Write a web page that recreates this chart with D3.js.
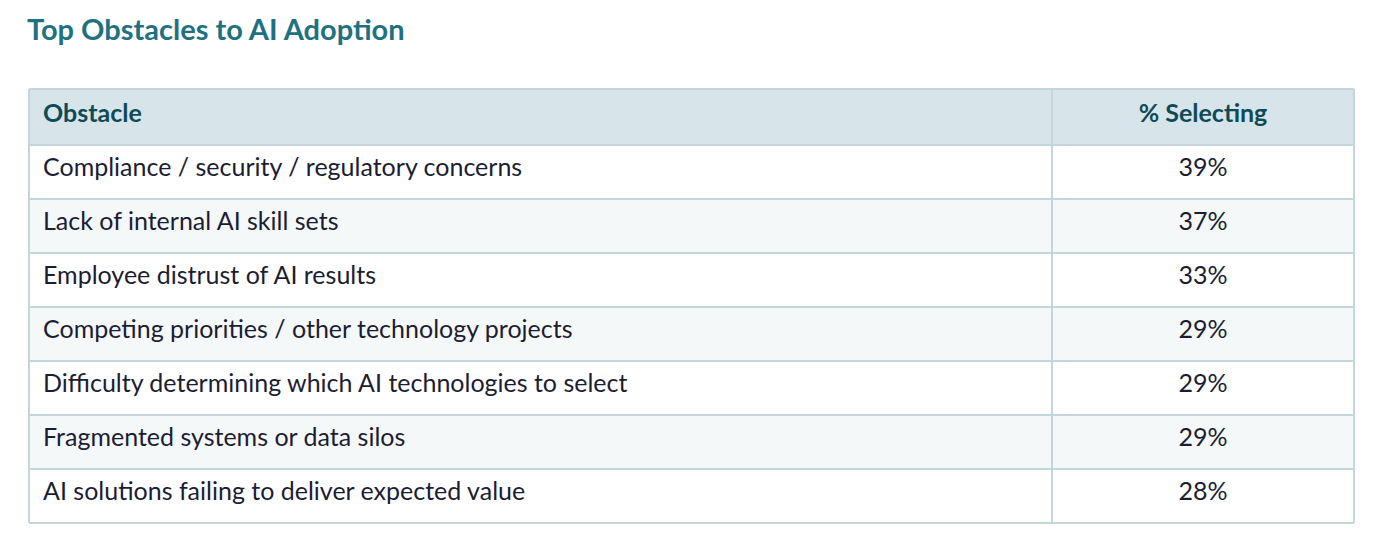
<!DOCTYPE html>
<html>
<head>
<meta charset="utf-8">
<script src="https://cdn.jsdelivr.net/npm/d3@7"></script>
<style>
  html, body { margin: 0; padding: 0; background: #ffffff; }
  svg { display: block; font-family: Lato, "Open Sans", sans-serif; }
</style>
</head>
<body>
<div id="chart"></div>
<script>
const title = "Top Obstacles to AI Adoption";
const columns = ["Obstacle", "% Selecting"];
const obstacles = [
  "Compliance / security / regulatory concerns",
  "Lack of internal AI skill sets",
  "Employee distrust of AI results",
  "Competing priorities / other technology projects",
  "Difficulty determining which AI technologies to select",
  "Fragmented systems or data silos",
  "AI solutions failing to deliver expected value"
];
const pctSelecting = [39, 37, 33, 29, 29, 29, 28];

const width = 1400;
const height = 553;
const table = { left: 29, right: 1354, top: 89, headerH: 56, bottom: 523 };
const splitX = 1052;
const fontSize = "25px";

const svg = d3.select("#chart")
  .append("svg")
  .attr("width", width)
  .attr("height", height);

svg.append("text")
  .text(title)
  .attr("x", 27)
  .attr("y", 40)
  .style("font-size", "29px")
  .style("font-weight", "bold")
  .style("fill", "#1f717f");

const rowScale = d3.scaleBand()
  .domain(d3.range(obstacles.length))
  .range([table.top + table.headerH, table.bottom]);

const rows = obstacles.map((d, i) => ({ label: d, value: pctSelecting[i], index: i }));

// header band
svg.append("rect")
  .attr("x", table.left)
  .attr("y", table.top)
  .attr("width", table.right - table.left)
  .attr("height", table.headerH)
  .attr("fill", "#d7e4e9");

const row = svg.selectAll("g.row")
  .data(rows)
  .join("g")
  .attr("class", "row")
  .attr("transform", (d) => `translate(0,${rowScale(d.index)})`);

row.append("rect")
  .attr("x", table.left)
  .attr("width", table.right - table.left)
  .attr("height", rowScale.bandwidth())
  .attr("fill", (d) => (d.index % 2 === 0 ? "#ffffff" : "#f4f8f9"));

row.append("text")
  .text((d) => d.label)
  .attr("x", 43)
  .attr("y", rowScale.bandwidth() / 2 + 4)
  .style("font-size", fontSize)
  .style("fill", "#1c1d33");

row.append("text")
  .text((d) => `${d.value}%`)
  .attr("x", (splitX + table.right) / 2)
  .attr("y", rowScale.bandwidth() / 2 + 4)
  .style("text-anchor", "middle")
  .style("font-size", fontSize)
  .style("fill", "#1c1d33");

svg.append("text")
  .text(columns[0])
  .attr("x", 43)
  .attr("y", table.top + table.headerH / 2 + 5)
  .style("font-size", fontSize)
  .style("font-weight", "bold")
  .style("fill", "#0f4b56");

svg.append("text")
  .text(columns[1])
  .attr("x", (splitX + table.right) / 2)
  .attr("y", table.top + table.headerH / 2 + 5)
  .style("text-anchor", "middle")
  .style("font-size", fontSize)
  .style("font-weight", "bold")
  .style("fill", "#0f4b56");

// grid lines
const lineColor = "#c3d6dc";
const ys = [table.top, table.top + table.headerH]
  .concat(rows.map((d) => rowScale(d.index) + rowScale.bandwidth()));

svg.selectAll("line.h")
  .data(ys)
  .join("line")
  .attr("class", "h")
  .attr("x1", table.left)
  .attr("x2", table.right)
  .attr("y1", (d) => d)
  .attr("y2", (d) => d)
  .attr("stroke", lineColor)
  .attr("stroke-width", 2);

svg.selectAll("line.v")
  .data([table.left, splitX, table.right])
  .join("line")
  .attr("class", "v")
  .attr("x1", (d) => d)
  .attr("x2", (d) => d)
  .attr("y1", table.top)
  .attr("y2", table.bottom)
  .attr("stroke", lineColor)
  .attr("stroke-width", 2);
</script>
</body>
</html>
